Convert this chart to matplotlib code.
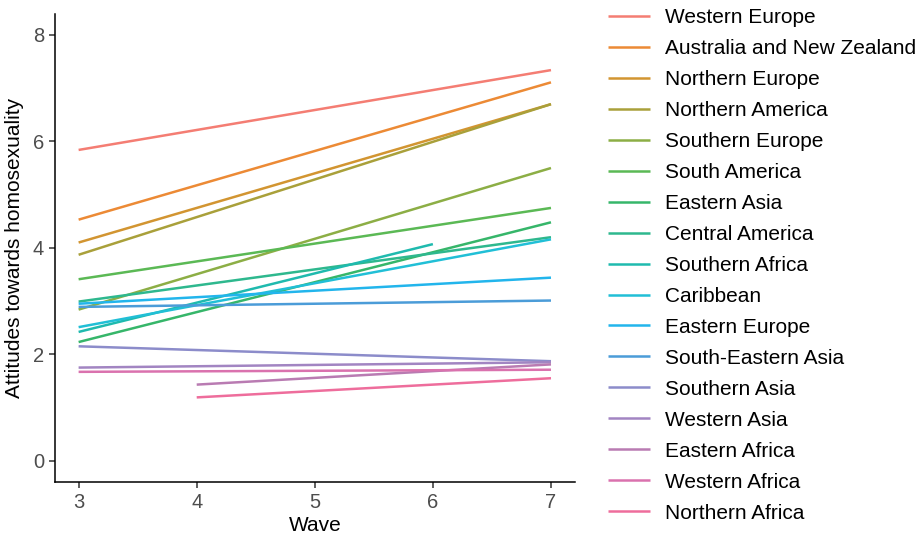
import matplotlib
matplotlib.use("Agg")
import matplotlib.pyplot as plt

plt.rcParams["font.family"] = ["Liberation Sans", "DejaVu Sans"]

# fitted trend per region: first/last wave and the attitude score at each end
regions = ["Western Europe", "Australia and New Zealand", "Northern Europe",
           "Northern America", "Southern Europe", "South America", "Eastern Asia",
           "Central America", "Southern Africa", "Caribbean", "Eastern Europe",
           "South-Eastern Asia", "Southern Asia", "Western Asia", "Eastern Africa",
           "Western Africa", "Northern Africa"]
wave_start = [3, 3, 3, 3, 3, 3, 3, 3, 3, 3, 3, 3, 3, 3, 4, 3, 4]
wave_end = [7, 7, 7, 7, 7, 7, 7, 7, 6, 7, 7, 7, 7, 7, 7, 7, 7]
score_start = [5.84, 4.53, 4.10, 3.87, 2.84, 3.41, 2.23, 2.99, 2.42, 2.51,
               2.95, 2.89, 2.15, 1.75, 1.43, 1.67, 1.19]
score_end = [7.34, 7.11, 6.70, 6.70, 5.50, 4.75, 4.48, 4.20, 4.07, 4.16,
             3.44, 3.01, 1.87, 1.85, 1.81, 1.71, 1.55]

colors = ["#F47D73", "#EC8A35", "#D29531", "#A9A03A", "#8CAE45", "#5BB955",
          "#36B66A", "#2EB88E", "#1FBAAE", "#21BFD6", "#22B5EC", "#4B9CD8",
          "#8C8CCA", "#A285C2", "#B97BB2", "#DA72AE", "#EE6D9C"]

fig = plt.figure(figsize=(9.21, 5.4), dpi=100)
ax = fig.add_axes([55 / 921, 58 / 540, (574.6 - 55) / 921, (482 - 13.7) / 540])

for name, x0, x1, y0, y1, col in zip(regions, wave_start, wave_end,
                                     score_start, score_end, colors):
    ax.plot([x0, x1], [y0, y1], color=col, lw=1.8, label=name,
            solid_capstyle="butt")

ax.set_xlim(2.8, 7.2)
ax.set_ylim(-0.4, 8.4)
ax.set_xticks([3, 4, 5, 6, 7])
ax.set_yticks([0, 2, 4, 6, 8])
for side in ["top", "right"]:
    ax.spines[side].set_visible(False)
for side in ["left", "bottom"]:
    ax.spines[side].set_linewidth(1.1)
    ax.spines[side].set_color("black")
ax.tick_params(length=4, width=1.1, color="#333333", labelsize=14.5,
               labelcolor="#4D4D4D", pad=4)
ax.set_xlabel("Wave", fontsize=15, labelpad=3)
ax.set_ylabel("Attitudes towards homosexuality", fontsize=15, labelpad=6)

ax.legend(loc="upper left", bbox_to_anchor=(608 / 921, 1 - 8 / 540),
          bbox_transform=fig.transFigure, frameon=False, fontsize=15,
          handlelength=2.0, handletextpad=0.75, labelspacing=0.575,
          borderpad=0, borderaxespad=0)

fig.savefig("out.png", dpi=100)
